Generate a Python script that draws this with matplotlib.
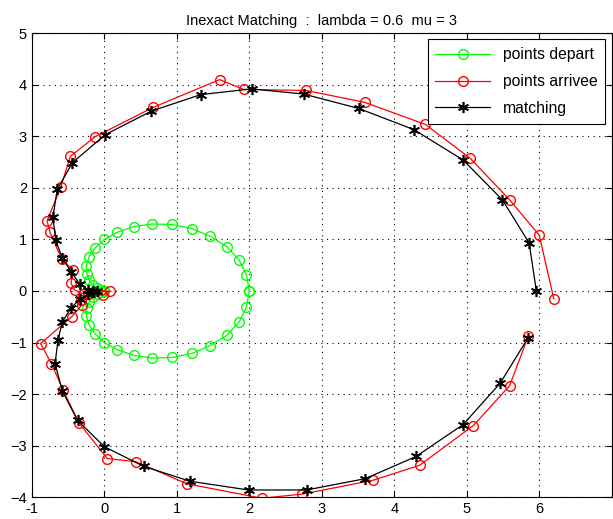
import matplotlib
matplotlib.use('Agg')
import matplotlib.pyplot as plt

plt.rcParams['font.family'] = ['Liberation Sans', 'DejaVu Sans']

# points depart (green)
x_dep = [2.00, 1.96, 1.86, 1.69, 1.46, 1.21, 0.93, 0.66, 0.41, 0.18,
         0.00, -0.13, -0.21, -0.25, -0.24, -0.21, -0.16, -0.10, -0.05, -0.01,
         0.00, -0.01, -0.05, -0.10, -0.16, -0.21, -0.24, -0.25, -0.21, -0.13,
         0.00, 0.18, 0.41, 0.66, 0.93, 1.21, 1.46, 1.69, 1.86, 1.96, 2.00]
y_dep = [0.00, 0.31, 0.60, 0.86, 1.06, 1.21, 1.29, 1.30, 1.25, 1.14,
         1.00, 0.83, 0.66, 0.49, 0.33, 0.21, 0.11, 0.05, 0.02, 0.00,
         0.00, 0.00, -0.02, -0.05, -0.11, -0.21, -0.33, -0.49, -0.66, -0.83,
         -1.00, -1.14, -1.25, -1.30, -1.29, -1.21, -1.06, -0.86, -0.60, -0.31, 0.00]

# points arrivee (red)
x_arr = [6.20, 6.00, 5.59, 5.05, 4.43, 3.59, 2.78, 1.92, 1.59, 0.67,
         -0.13, -0.47, -0.60, -0.79, -0.75, -0.59, -0.43, -0.46, -0.41, -0.29,
         0.08, -0.02, -0.22, -0.32, -0.31, -0.45, -0.88, -0.73, -0.57, -0.35,
         0.04, 0.43, 1.14, 2.17, 2.73, 3.71, 4.35, 5.09, 5.59, 5.85]
y_arr = [-0.15, 1.08, 1.77, 2.57, 3.23, 3.66, 3.89, 3.91, 4.10, 3.56,
         2.99, 2.61, 2.02, 1.36, 1.14, 0.62, 0.40, 0.15, 0.02, -0.06,
         0.00, -0.08, -0.05, -0.18, -0.27, -0.50, -1.02, -1.41, -1.92, -2.56,
         -3.25, -3.31, -3.74, -4.02, -3.94, -3.67, -3.38, -2.61, -1.84, -0.87]

# matching (black)
x_match = [5.96, 5.86, 5.49, 4.95, 4.27, 3.51, 2.75, 2.03, 1.33, 0.65,
           0.01, -0.44, -0.65, -0.71, -0.67, -0.58, -0.46, -0.34, -0.22, -0.15,
           -0.10, -0.14, -0.22, -0.34, -0.46, -0.58, -0.64, -0.68, -0.58, -0.37,
           0.00, 0.54, 1.18, 1.99, 2.79, 3.60, 4.30, 4.95, 5.46, 5.84]
y_match = [0.00, 0.93, 1.77, 2.54, 3.13, 3.54, 3.82, 3.92, 3.81, 3.49,
           3.03, 2.49, 1.97, 1.43, 0.98, 0.64, 0.37, 0.14, 0.02, 0.00,
           0.00, -0.02, -0.06, -0.16, -0.33, -0.60, -0.95, -1.41, -1.94, -2.51,
           -3.02, -3.40, -3.69, -3.86, -3.86, -3.64, -3.21, -2.59, -1.79, -0.92]

fig = plt.figure(figsize=(6.13, 5.19), dpi=100)
ax = fig.add_axes([0.052, 0.042, 0.946, 0.894])

ax.plot(x_dep, y_dep, '-o', color=(0, 1, 0), mfc='none', ms=7, lw=0.9, label='points depart')
ax.plot(x_arr, y_arr, '-o', color=(1, 0, 0), mfc='none', ms=7, lw=0.9, label='points arrivee')
# asterisk marker like matlab '*'
ax.plot(x_match, y_match, '-', color='k', marker=(6, 2, 0), ms=8, mew=1.2, lw=0.9, label='matching')

ax.set_xlim(-1, 7)
ax.set_ylim(-4, 5)
ax.set_xticks(range(-1, 8))
ax.set_yticks(range(-4, 6))
ax.set_xticklabels(['-1', '0', '1', '2', '3', '4', '5', '6', ''])
ax.grid(True, color='k', linestyle=(0, (1, 4)), linewidth=0.8)
ax.tick_params(direction='in', top=True, right=True, labelsize=10.5, length=4)
for s in ax.spines.values():
    s.set_linewidth(0.8)

ax.set_title('Inexact Matching  :  lambda = 0.6  mu = 3', fontsize=10.5, pad=6)
leg = ax.legend(loc='upper right', fontsize=11.3, fancybox=False, framealpha=1,
                edgecolor='k', handlelength=3.5, labelspacing=0.75,
                borderaxespad=0.4, borderpad=0.5)
leg.get_frame().set_linewidth(0.8)

fig.savefig('out.png', dpi=100)
